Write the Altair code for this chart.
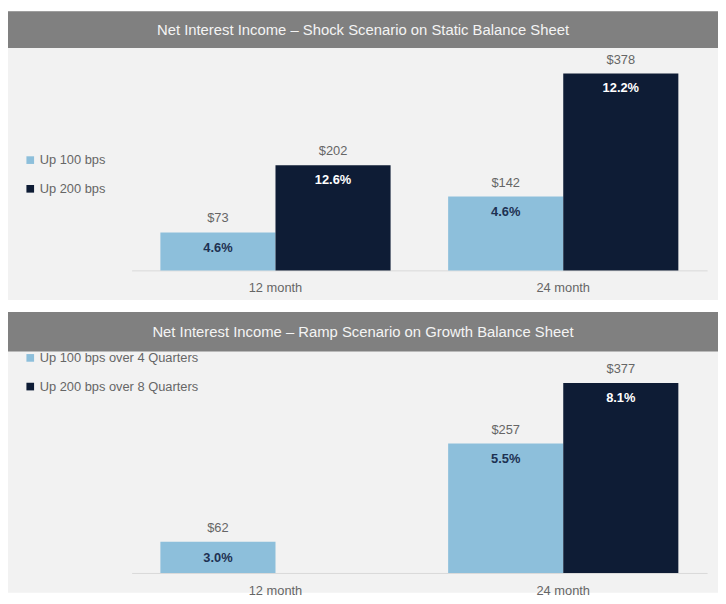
import altair as alt
import pandas as pd

# ---- data ----
periods = ["12 month", "24 month"]

top_title = "Net Interest Income \u2013 Shock Scenario on Static Balance Sheet"
top_series = ["Up 100 bps", "Up 200 bps"]
top_period = ["12 month", "12 month", "24 month", "24 month"]
top_name = ["Up 100 bps", "Up 200 bps", "Up 100 bps", "Up 200 bps"]
top_value = [73, 202, 142, 378]
top_pct = [4.6, 12.6, 4.6, 12.2]

bot_title = "Net Interest Income \u2013 Ramp Scenario on Growth Balance Sheet"
bot_series = ["Up 100 bps over 4 Quarters", "Up 200 bps over 8 Quarters"]
bot_period = ["12 month", "24 month", "24 month"]
bot_name = ["Up 100 bps over 4 Quarters", "Up 100 bps over 4 Quarters", "Up 200 bps over 8 Quarters"]
bot_value = [62, 257, 377]
bot_pct = [3.0, 5.5, 8.1]

LIGHT = "#8dbfdb"
DARK = "#0e1c35"
NAVY_TXT = "#1d3152"
GREY_TXT = "#666666"
W = 718
FONT = "Liberation Sans"


def panel(title, series, period, name, value, pct, height, baseline, px_per_unit, legend_y, bar_h, lab_pad):
    df = pd.DataFrame({"period": period, "series": name, "value": value, "pct": pct})
    ymax = baseline / px_per_unit
    ymin = -(height - baseline) / px_per_unit
    yscale = alt.Scale(domain=[ymin, ymax], nice=False, zero=False)
    xscale = alt.Scale(domain=periods, range=[125, 707], paddingInner=0.2, paddingOuter=0.1)
    xoff = alt.XOffset("series:N", scale=alt.Scale(domain=series, paddingInner=0, paddingOuter=0))

    base = alt.Chart(df).transform_calculate(
        vlab="'$' + datum.value",
        plab="format(datum.pct, '.1f') + '%'",
    )
    x_enc = alt.X(
        "period:N",
        scale=xscale,
        axis=alt.Axis(
            title=None, labelAngle=0, ticks=False, domain=True, domainColor="#d9d9d9",
            labelFontSize=13, labelColor=GREY_TXT, labelFont=FONT, labelPadding=lab_pad,
            offset=-(height - baseline),
        ),
    )
    bars = base.mark_bar(stroke=None).encode(
        x=x_enc,
        xOffset=xoff,
        y=alt.Y("value:Q", scale=yscale, axis=None),
        y2=alt.datum(0),
        color=alt.Color(
            "series:N",
            scale=alt.Scale(domain=series, range=[LIGHT, DARK]),
            legend=alt.Legend(
                title=None, orient="none", legendX=16, legendY=legend_y,
                symbolType="square", symbolSize=60, symbolStrokeWidth=0,
                labelFontSize=13, labelColor=GREY_TXT, labelFont=FONT, labelLimit=400,
                rowPadding=15, labelOffset=3, padding=0, zindex=2,
            ),
        ),
    )
    vlabels = base.mark_text(baseline="bottom", dy=-7, fontSize=13, color=GREY_TXT, font=FONT).encode(
        x=alt.X("period:N", scale=xscale),
        xOffset=xoff,
        y=alt.Y("value:Q", scale=yscale),
        text="vlab:N",
    )
    plab_light = base.transform_filter(alt.datum.series == series[0]).mark_text(
        baseline="middle", dy=16, fontSize=13, fontWeight="bold", color=NAVY_TXT, font=FONT
    ).encode(
        x=alt.X("period:N", scale=xscale), xOffset=xoff,
        y=alt.Y("value:Q", scale=yscale), text="plab:N",
    )
    plab_dark = base.transform_filter(alt.datum.series == series[1]).mark_text(
        baseline="middle", dy=15, fontSize=13, fontWeight="bold", color="#ffffff", font=FONT
    ).encode(
        x=alt.X("period:N", scale=xscale), xOffset=xoff,
        y=alt.Y("value:Q", scale=yscale), text="plab:N",
    )
    tdf = pd.DataFrame({"t": [title]})
    tbar = alt.Chart(tdf).mark_rect(color="#808080").encode(
        x=alt.value(0), x2=alt.value(W), y=alt.value(0), y2=alt.value(bar_h)
    )
    ttext = alt.Chart(tdf).mark_text(
        fontSize=15, color="#f4f4f4", font=FONT, align="center", baseline="middle"
    ).encode(x=alt.value(W / 2), y=alt.value(bar_h / 2), text="t:N")

    return alt.layer(tbar, ttext, bars, vlabels, plab_light, plab_dark).properties(
        width=W, height=height
    )


top = panel(top_title, top_series, top_period, top_name, top_value, top_pct,
            height=292, baseline=262, px_per_unit=199 / 378, legend_y=144, bar_h=37, lab_pad=11)
bot = panel(bot_title, bot_series, bot_period, bot_name, bot_value, bot_pct,
            height=284, baseline=264, px_per_unit=192 / 377, legend_y=40, bar_h=40, lab_pad=12)

chart = alt.vconcat(top, bot, spacing=12).resolve_scale(
    x="independent", y="independent", color="independent", xOffset="independent"
).resolve_legend(color="independent").properties(
    padding=0, background="#ffffff"
).configure_view(
    fill="#f2f2f2", strokeWidth=0
)

chart.save("out.html", embed_options={"renderer": "svg", "actions": False})
